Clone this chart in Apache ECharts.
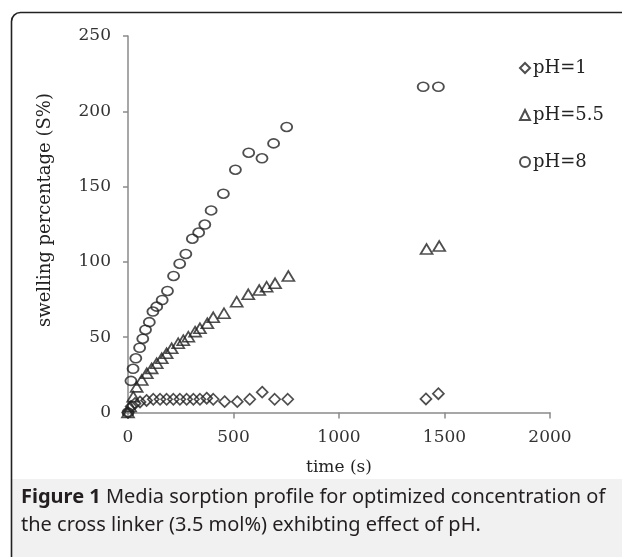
<!DOCTYPE html>
<html>
<head>
<meta charset="utf-8">
<script src="https://cdn.jsdelivr.net/npm/echarts@6/dist/echarts.min.js"></script>
<style>
html,body{margin:0;padding:0;background:#fff;}
#chart{width:622px;height:557px;}
</style>
</head>
<body>
<div id="chart"></div>
<script>
// Data: [time (s), swelling percentage (S%)]
const seriesNames = ['pH=1', 'pH=5.5', 'pH=8'];
const pH1 = [[0,0],[15,4],[33,6],[57,7],[88,8],[120,8.8],[152,8.8],[183,8.8],[215,8.8],[246,8.8],[278,8.8],[310,8.8],[341,8.8],[373,9.5],[404,8.8],[458,7.2],[518,7.2],[577,8.8],[636,13.5],[695,8.8],[757,8.8],[1412,9],[1471,12.5]];
const pH55 = [[0,0],[10,4],[25,10.5],[41,17],[65,21.6],[89,26],[112,29.3],[136,32.7],[160,36],[183,39.3],[207,42.6],[238,46],[262,48],[286,50.3],[318,53.7],[341,55.9],[376,59.2],[404,63.2],[455,65.9],[515,73.6],[570,78.5],[622,81.3],[657,83.5],[697,85.8],[760,90.6],[1415,108.5],[1475,110.5]];
const pH8 = [[0,0],[14,21],[24,29],[37,36],[55,43],[70,49],[83,55],[101,60],[118,67],[136,70.3],[162,74.7],[187,80.7],[216,90.7],[245,98.8],[274,105.3],[305,115.4],[335,119.5],[364,124.8],[394,134.2],[452,145.3],[509,161.2],[572,172.5],[635,168.8],[690,178.7],[752,189.6],[1399,216.3],[1471,216.3]];
const xTicks = {min: 0, max: 2000, interval: 500};
const yTicks = {min: 0, max: 250, interval: 50};
const xName = 'time (s)';
const yName = 'swelling percentage (S%)';
const captionBold = 'Figure 1';
const captionLine1 = ' Media sorption profile for optimized concentration of';
const captionLine2 = 'the cross linker (3.5 mol%) exhibting effect of pH.';

const chart = echarts.init(document.getElementById('chart'), null, {renderer: 'canvas'});
const serif = '"DejaVu Serif", "Liberation Serif", serif';
const sans = '"Noto Sans", "Open Sans", sans-serif';
const axisGray = '#8a8a8a';
const markStyle = {color: 'rgba(255,255,255,0)', borderColor: '#222', borderWidth: 1.7};

const option = {
  backgroundColor: '#fff',
  animation: false,
  graphic: [
    {type: 'rect', z: -10, shape: {x: 12, y: 479, width: 700, height: 200}, style: {fill: '#f1f1f1'}},
    {type: 'rect', z: 100, shape: {x: 11.5, y: 12.5, width: 800, height: 800, r: [9, 0, 0, 0]}, style: {fill: 'none', stroke: '#222', lineWidth: 1.6}},
    {type: 'text', x: 45, y: 210, rotation: Math.PI / 2, style: {
      text: yName, fontFamily: serif, fontSize: 18, fill: '#222', align: 'center', verticalAlign: 'middle'
    }},
    {type: 'text', left: 21, top: 483, style: {
      rich: {b: {fontWeight: 'bold', fontFamily: sans, fontSize: 20, fill: '#231f20'},
             n: {fontFamily: sans, fontSize: 20, fill: '#231f20'}},
      text: '{b|' + captionBold + '}{n|' + captionLine1 + '}\n{n|' + captionLine2 + '}',
      lineHeight: 28
    }}
  ],
  grid: {left: 128, right: 72, top: 36, bottom: 144.5, containLabel: false},
  legend: {
    orient: 'vertical', left: 514, top: 54, itemGap: 29, itemWidth: 10, itemHeight: 10,
    textStyle: {fontFamily: serif, fontSize: 18, color: '#222', padding: [0, 0, 0, -2]},
    data: seriesNames
  },
  xAxis: {
    type: 'value', min: xTicks.min, max: xTicks.max, interval: xTicks.interval,
    name: xName, nameLocation: 'middle', nameGap: 47,
    nameTextStyle: {fontFamily: serif, fontSize: 17, color: '#222'},
    axisLine: {show: true, lineStyle: {color: axisGray, width: 1.5}},
    axisTick: {show: true, length: 6, lineStyle: {color: axisGray, width: 1.5}},
    axisLabel: {fontFamily: serif, fontSize: 17, color: '#333', margin: 17, formatter: v => String(v)},
    splitLine: {show: false}
  },
  yAxis: {
    type: 'value', min: yTicks.min, max: yTicks.max, interval: yTicks.interval,
    axisLine: {show: true, lineStyle: {color: axisGray, width: 1.5}},
    axisTick: {show: true, length: 5, lineStyle: {color: axisGray, width: 1.5}},
    axisLabel: {fontFamily: serif, fontSize: 17, color: '#333', margin: 17},
    splitLine: {show: false}
  },
  series: [
    {name: seriesNames[0], type: 'scatter', symbol: 'diamond', symbolSize: [11, 11], data: pH1, itemStyle: markStyle},
    {name: seriesNames[1], type: 'scatter', symbol: 'triangle', symbolSize: [12, 10], data: pH55, itemStyle: markStyle},
    {name: seriesNames[2], type: 'scatter', symbol: 'circle', symbolSize: [11, 9], data: pH8, itemStyle: markStyle}
  ]
};
chart.setOption(option);
</script>
</body>
</html>
